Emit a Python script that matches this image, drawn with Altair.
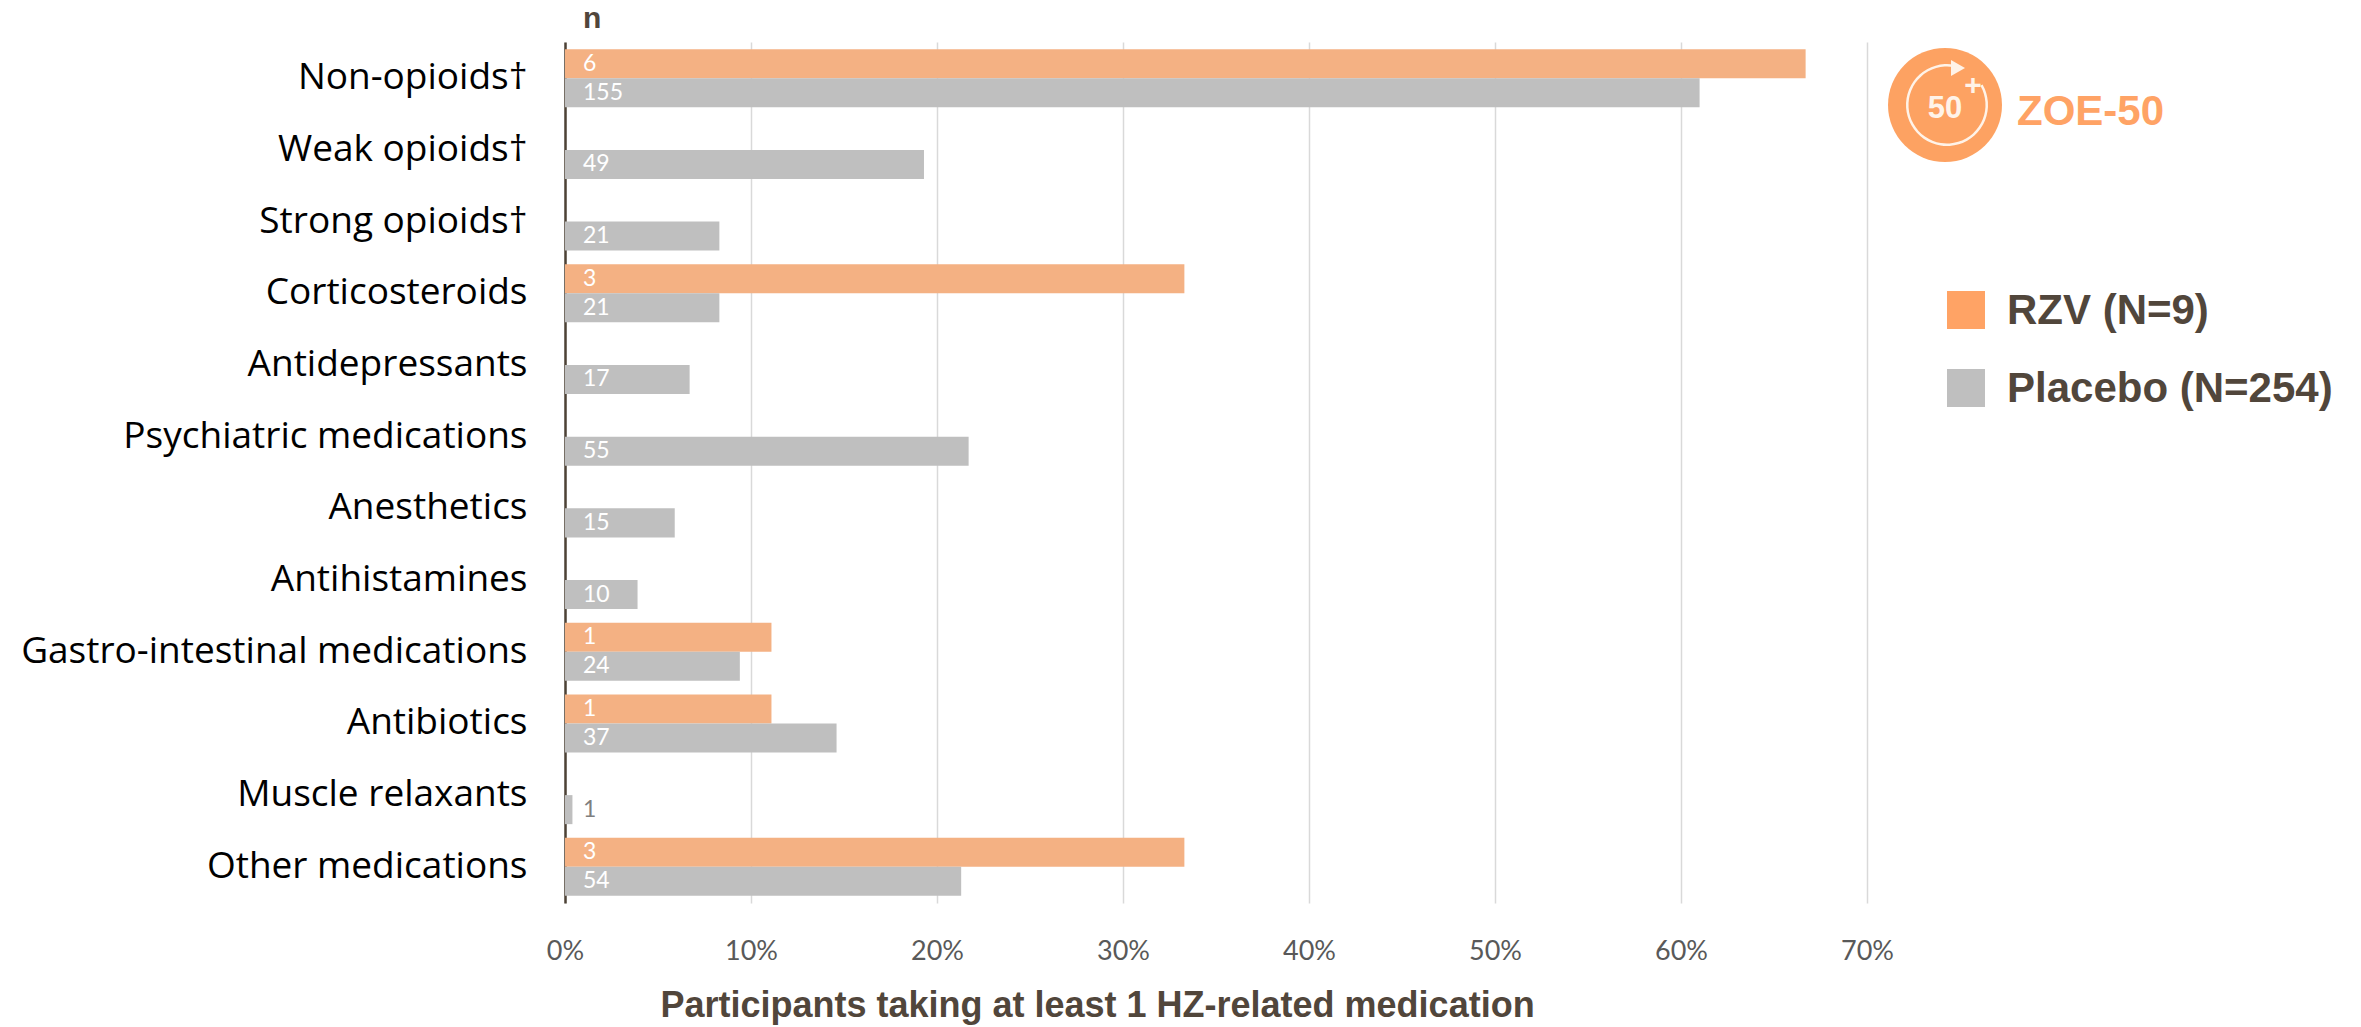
import altair as alt
import pandas as pd

categories = [
    "Non-opioids†", "Weak opioids†", "Strong opioids†", "Corticosteroids",
    "Antidepressants", "Psychiatric medications", "Anesthetics", "Antihistamines",
    "Gastro-intestinal medications", "Antibiotics", "Muscle relaxants", "Other medications",
]
rzv_pct = [66.7, None, None, 33.3, None, None, None, None, 11.1, 11.1, None, 33.3]
rzv_n = [6, None, None, 3, None, None, None, None, 1, 1, None, 3]
placebo_pct = [61.0, 19.3, 8.3, 8.3, 6.7, 21.7, 5.9, 3.9, 9.4, 14.6, 0.4, 21.3]
placebo_n = [155, 49, 21, 21, 17, 55, 15, 10, 24, 37, 1, 54]
groups = ["RZV (N=9)", "Placebo (N=254)"]
bar_colors = ["#F4B183", "#BFBFBF"]
legend_colors = ["#FFA365", "#BFBFBF"]
x_ticks = [0, 10, 20, 30, 40, 50, 60, 70]
x_title = "Participants taking at least 1 HZ-related medication"

rows = []
for c, p, n in zip(categories, rzv_pct, rzv_n):
    if p is not None:
        rows.append({"category": c, "group": groups[0], "pct": p, "n": n})
for c, p, n in zip(categories, placebo_pct, placebo_n):
    rows.append({"category": c, "group": groups[1], "pct": p, "n": n})
df = pd.DataFrame(rows)

DARK = "#51463B"
ORANGE = "#FFA365"

W, H = 1302, 861

y_enc = alt.Y("category:N", sort=categories, title=None,
              scale=alt.Scale(paddingInner=0.19, paddingOuter=0.1))
yoff_enc = alt.YOffset("group:N", sort=groups,
                       scale=alt.Scale(domain=groups, paddingInner=0, paddingOuter=0))

base = alt.Chart(df)
bars = base.mark_bar().encode(
    y=y_enc,
    yOffset=yoff_enc,
    x=alt.X("pct:Q", title=x_title,
            scale=alt.Scale(domain=[0, 70], nice=False, zero=True),
            axis=alt.Axis(values=x_ticks, labelExpr="datum.value + '%'")),
    color=alt.Color("group:N", sort=groups,
                    scale=alt.Scale(domain=groups, range=bar_colors), legend=None),
)

labels = base.mark_text(align="left", baseline="middle", dx=18, font="Lato", fontSize=23).encode(
    y=y_enc,
    yOffset=yoff_enc,
    x=alt.XDatum(0, title=x_title),
    text=alt.Text("n:Q", format="d"),
    color=alt.condition("datum.pct < 2", alt.value("#7F7F7F"), alt.value("#FFFFFF")),
)

one = alt.Chart(pd.DataFrame({"k": [0]}))

n_header = one.mark_text(text="n", align="left", baseline="alphabetic",
                         font="Liberation Sans", fontWeight="bold", fontSize=30,
                         color=DARK).encode(x=alt.value(18), y=alt.value(-14))

# logo
logo_circle = one.mark_point(shape="circle", filled=True, size=12996, color="#FDA262",
                             opacity=1).encode(x=alt.value(1380), y=alt.value(63))
logo_ring = one.mark_arc(theta=1.05, theta2=6.45, radius=41, radius2=38.5,
                         color="#FFF3E8").encode(x=alt.value(1382), y=alt.value(63))
logo_arrow = one.mark_point(shape="triangle-right", filled=True, size=260,
                            color="#FFF3E8", opacity=1).encode(x=alt.value(1393), y=alt.value(26))
logo_50 = one.mark_text(text="50", align="center", baseline="middle", font="Liberation Sans",
                        fontWeight="bold", fontSize=31, color="#FFF3E8").encode(
    x=alt.value(1380), y=alt.value(67))
logo_plus = one.mark_text(text="+", align="center", baseline="middle", font="Liberation Sans",
                          fontWeight="bold", fontSize=30, color="#FFF3E8").encode(
    x=alt.value(1408), y=alt.value(44))
logo_text = one.mark_text(text="ZOE-50", align="left", baseline="alphabetic",
                          font="Liberation Sans", fontWeight="bold", fontSize=42,
                          color=ORANGE).encode(x=alt.value(1452), y=alt.value(83))

# legend
legend_layers = []
for i, (g, col) in enumerate(zip(groups, legend_colors)):
    yy = 268 + i * 78
    legend_layers.append(
        one.mark_square(size=1444, color=col, opacity=1).encode(x=alt.value(1401), y=alt.value(yy)))
    legend_layers.append(
        one.mark_text(text=g, align="left", baseline="alphabetic", font="Liberation Sans",
                      fontWeight="bold", fontSize=42, color=DARK).encode(
            x=alt.value(1442), y=alt.value(yy + 14)))

chart = alt.layer(
    bars, labels, n_header,
    logo_circle, logo_ring, logo_arrow, logo_50, logo_plus, logo_text,
    *legend_layers,
).properties(
    width=W, height=H,
    autosize=alt.AutoSizeParams(type="none"),
    padding={"left": 565, "top": 42, "right": 2361 - 565 - W, "bottom": 1027 - 42 - H},
).configure_view(
    stroke=None
).configure_axisX(
    grid=True, gridColor="#D9D9D9", gridWidth=1.5, domain=False, ticks=False,
    labelFont="Lato", labelFontSize=27, labelColor="#595959", labelPadding=35,
    labelFlush=False,
    titleFont="Liberation Sans", titleFontWeight="bold", titleFontSize=36, titleColor=DARK,
    titleX=532, titleY=113, titleAlign="center", titleBaseline="alphabetic",
).configure_axisY(
    grid=False, domain=True, domainColor="#4D4236", domainWidth=2.5, ticks=False,
    labelFont="Open Sans", labelFontSize=37, labelColor="#000000", labelPadding=38,
    labelLimit=0, zindex=1,
)

chart.save("out.html", embed_options={"renderer": "svg", "actions": False})
